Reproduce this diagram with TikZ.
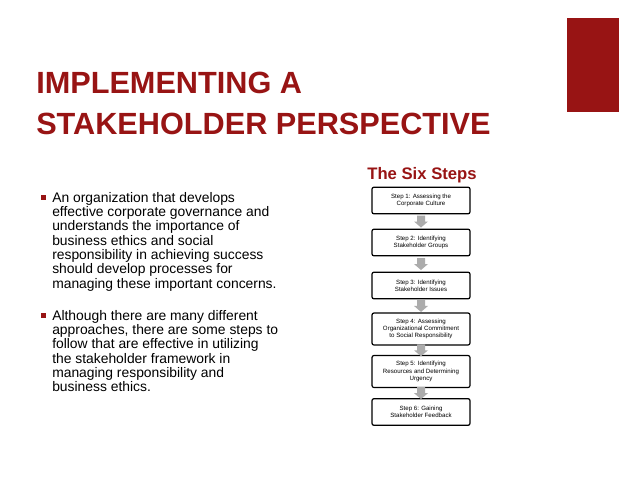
\documentclass[tikz,border=0pt]{standalone}
\usepackage{fontspec}
\setmainfont{Liberation Sans}
\usetikzlibrary{calc}
\definecolor{dred}{RGB}{152,20,20}
\begin{document}
\begin{tikzpicture}[x=0.75pt,y=-0.75pt,
  stepbox/.style={draw=black,line width=0.9pt,rounded corners=1.5pt,minimum width=73.5pt,align=center,font=\fontsize{4.6}{5.4}\selectfont,inner sep=1pt},
  bul/.style={anchor=north west,align=left,font=\fontsize{10.4}{10.75}\selectfont,inner sep=0pt}]
\useasboundingbox (0,0) rectangle (638,479);
\fill[white] (0,0) rectangle (638,479);
\fill[dred] (567,18) rectangle (619,112);
\node[anchor=base west,text=dred,font=\bfseries\fontsize{23}{27}\selectfont,inner sep=0pt] (t1) at (36,93) {IMPLEMENTING A};
\node[anchor=base west,text=dred,font=\bfseries\fontsize{23}{27}\selectfont,inner sep=0pt] (t2) at (36,134) {STAKEHOLDER PERSPECTIVE};
\fill[dred] (41,195) rectangle (46,200);
\node[bul] (b1) at (52,192) {An organization that develops\\effective corporate governance and\\understands the importance of\\business ethics and social\\responsibility in achieving success\\should develop processes for\\managing these important concerns.};
\fill[dred] (41,313) rectangle (46,318);
\node[bul] (b2) at (52,310) {Although there are many different\\approaches, there are some steps to\\follow that are effective in utilizing\\the stakeholder framework in\\managing responsibility and\\business ethics.};
\node[text=dred,font=\bfseries\fontsize{12.5}{14}\selectfont] (hd) at (422,175) {The Six Steps};
\node[stepbox,minimum height=20pt] (s1) at (421,200.5) {Step 1: Assessing the\\Corporate Culture};
\node[stepbox,minimum height=20pt] (s2) at (421,242.5) {Step 2: Identifying\\Stakeholder Groups};
\node[stepbox,minimum height=20pt] (s3) at (421,285.5) {Step 3: Identifying\\Stakeholder Issues};
\node[stepbox,minimum height=24pt] (s4) at (421,329) {Step 4: Assessing\\Organizational Commitment\\to Social Responsibility};
\node[stepbox,minimum height=24pt] (s5) at (421,371.5) {Step 5: Identifying\\Resources and Determining\\Urgency};
\node[stepbox,minimum height=20pt] (s6) at (421,412) {Step 6: Gaining\\Stakeholder Feedback};
\foreach \a/\b in {s1/s2,s2/s3,s3/s4,s4/s5,s5/s6}{
  \coordinate (m\a) at ($(\a.south)!0.5!(\b.north)$);
  \fill[gray!65] ($(m\a)+(-4,-6)$) -- ++(8,0) -- ++(0,6) -- ++(3,0) -- ++(-7,6) -- ++(-7,-6) -- ++(3,0) -- cycle;
}
\end{tikzpicture}
\end{document}
